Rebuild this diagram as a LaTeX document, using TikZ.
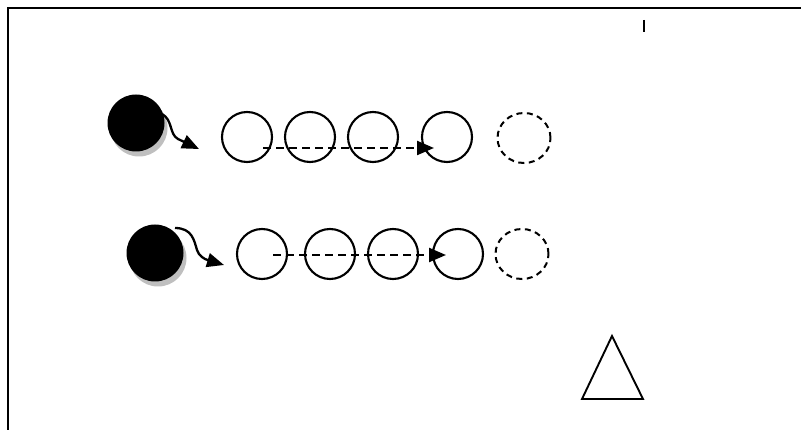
\documentclass[tikz,border=0pt]{standalone}
\usetikzlibrary{arrows.meta,shapes.geometric}
\begin{document}
\begin{tikzpicture}[x=1pt,y=-1pt,
  ring/.style={circle,draw=black,line width=2.1pt,minimum size=50pt,inner sep=0pt},
  ghost/.style={ellipse,draw=black,line width=2pt,dash pattern=on 6pt off 4.5pt,minimum width=53pt,minimum height=50pt,inner sep=0pt},
  ball/.style={circle,fill=black,minimum size=57pt,inner sep=0pt},
  shade/.style={circle,fill=black!25,minimum size=57pt,inner sep=0pt},
  tip/.style={-{Triangle[length=17pt,width=14pt]}},
  flow/.style={line width=2.3pt,dash pattern=on 8pt off 5pt,tip},
  curl/.style={line width=2.3pt,tip}]
\useasboundingbox (0,0) rectangle (801,430);
\fill[white] (0,0) rectangle (801,430);
\coordinate (tl) at (8,8);
\coordinate (tr) at (801,8);
\coordinate (bl) at (8,430);
\draw[line width=2pt] (tr) -- (tl) -- (bl);
\coordinate (ta) at (644,20);
\coordinate (tb) at (644,32);
\draw[line width=1.8pt] (ta) -- (tb);
% row 1
\node[shade] (s1) at (139,128) {};
\node[ball] (b1) at (136,123) {};
\node[ring] (a1) at (247,137) {};
\node[ring] (a2) at (310,137) {};
\node[ring] (a3) at (373,137) {};
\node[ring] (a4) at (447,137) {};
\node[ghost] (a5) at (524,138) {};
\coordinate (c1s) at (162,114);
\coordinate (c1e) at (199,149);
\draw[curl] (c1s) .. controls (173,120) and (169,134) .. (178,139) -- (c1e);
\coordinate (d1s) at (263,148);
\coordinate (d1e) at (434,148);
\draw[flow] (d1s) -- (d1e);
% row 2
\node[shade] (s2) at (158,258) {};
\node[ball] (b2) at (155,253) {};
\node[ring] (r1) at (262,254) {};
\node[ring] (r2) at (330,254) {};
\node[ring] (r3) at (393,254) {};
\node[ring] (r4) at (458,254) {};
\node[ghost] (r5) at (522,254) {};
\coordinate (c2s) at (175,228);
\coordinate (c2e) at (224,265);
\draw[curl] (c2s) .. controls (192,228) and (194,240) .. (197,250) .. controls (199,256) and (204,259) .. (c2e);
\coordinate (d2s) at (273,255);
\coordinate (d2e) at (446,255);
\draw[flow] (d2s) -- (d2e);
% triangle
\node[coordinate] (p1) at (612,336) {};
\node[coordinate] (p2) at (582,399) {};
\node[coordinate] (p3) at (643,399) {};
\draw[line width=1.9pt,line join=miter] (p1) -- (p2) -- (p3) -- cycle;
\end{tikzpicture}
\end{document}
